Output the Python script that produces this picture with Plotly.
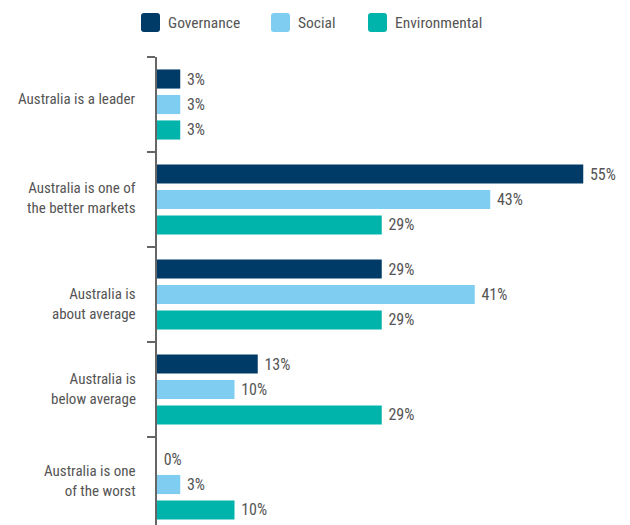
import plotly.graph_objects as go

categories = [
    "Australia is a leader",
    "Australia is one of<br>the better markets",
    "Australia is<br>about average",
    "Australia is<br>below average",
    "Australia is one<br>of the worst",
]
series_names = ["Governance", "Social", "Environmental"]
governance = [3, 55, 29, 13, 0]
social = [3, 43, 41, 10, 3]
environmental = [3, 29, 29, 29, 10]
colors = ["#003b68", "#7fcef2", "#00b3ab"]

# vertical nudge (px) of each category label relative to its band centre
label_shift = [6, 2, -9, 1, 4]

FONT = "Liberation Sans Narrow, Roboto Condensed, Roboto, sans-serif"
TEXT_COLOR = "#555555"

W, H = 630, 525
ML, MR, MT, MB = 157, 8, 57, 0

fig = go.Figure()
for name, vals, col in zip(series_names, [governance, social, environmental], colors):
    fig.add_trace(go.Bar(
        y=categories, x=vals, name=name, orientation="h",
        marker=dict(color=col, line=dict(width=0)),
        text=[f"\u00a0{v}%" for v in vals], textposition="outside",
        textfont=dict(family=FONT, size=16, color=TEXT_COLOR),
        cliponaxis=False, showlegend=False,
    ))

# Legend drawn as rounded swatches + labels along the top
plot_w = W - ML - MR
plot_h = H - MT - MB
def px_x(p):
    return (p - ML) / plot_w
def px_y(p):
    return (H - MB - p) / plot_h

def rounded_square(left, top, size, r):
    xs = [px_x(left), px_x(left + r), px_x(left + size - r), px_x(left + size)]
    ys = [px_y(top), px_y(top + r), px_y(top + size - r), px_y(top + size)]
    return (f"M{xs[1]},{ys[0]} L{xs[2]},{ys[0]} Q{xs[3]},{ys[0]} {xs[3]},{ys[1]} "
            f"L{xs[3]},{ys[2]} Q{xs[3]},{ys[3]} {xs[2]},{ys[3]} "
            f"L{xs[1]},{ys[3]} Q{xs[0]},{ys[3]} {xs[0]},{ys[2]} "
            f"L{xs[0]},{ys[1]} Q{xs[0]},{ys[0]} {xs[1]},{ys[0]} Z")

legend_x = [141, 271, 368]
shapes = []
annotations = []
for name, col, lx in zip(series_names, colors, legend_x):
    shapes.append(dict(type="path", xref="paper", yref="paper",
                       path=rounded_square(lx, 13, 19, 3),
                       fillcolor=col, line=dict(width=0)))
    annotations.append(dict(x=px_x(lx + 25), y=px_y(23), xref="paper", yref="paper",
                            text=name, showarrow=False, xanchor="left", yanchor="middle",
                            font=dict(family=FONT, size=15.5, color=TEXT_COLOR)))

# Category labels to the left of the axis
for cat, dy in zip(categories, label_shift):
    annotations.append(dict(x=0, y=cat, xref="paper", yref="y",
                            text=cat, showarrow=False, xanchor="right", yanchor="middle",
                            align="right", xshift=-19, yshift=dy,
                            font=dict(family=FONT, size=15, color=TEXT_COLOR)))

n_visible = plot_h / 95.0
fig.update_layout(
    width=W, height=H,
    margin=dict(l=ML, r=MR, t=MT, b=MB),
    paper_bgcolor="white", plot_bgcolor="white",
    barmode="group", bargap=0.195, bargroupgap=0.25,
    showlegend=False,
    shapes=shapes, annotations=annotations,
    xaxis=dict(range=[0, 60], visible=False, showgrid=False, zeroline=False),
    yaxis=dict(
        range=[-0.5 + n_visible, -0.5],
        showline=True, linecolor="#666666", linewidth=1.5,
        ticks="outside", tickson="boundaries", ticklen=8, tickcolor="#666666", tickwidth=1.5,
        showticklabels=False,
        showgrid=False, zeroline=False,
    ),
)

fig.write_html("out.html")
